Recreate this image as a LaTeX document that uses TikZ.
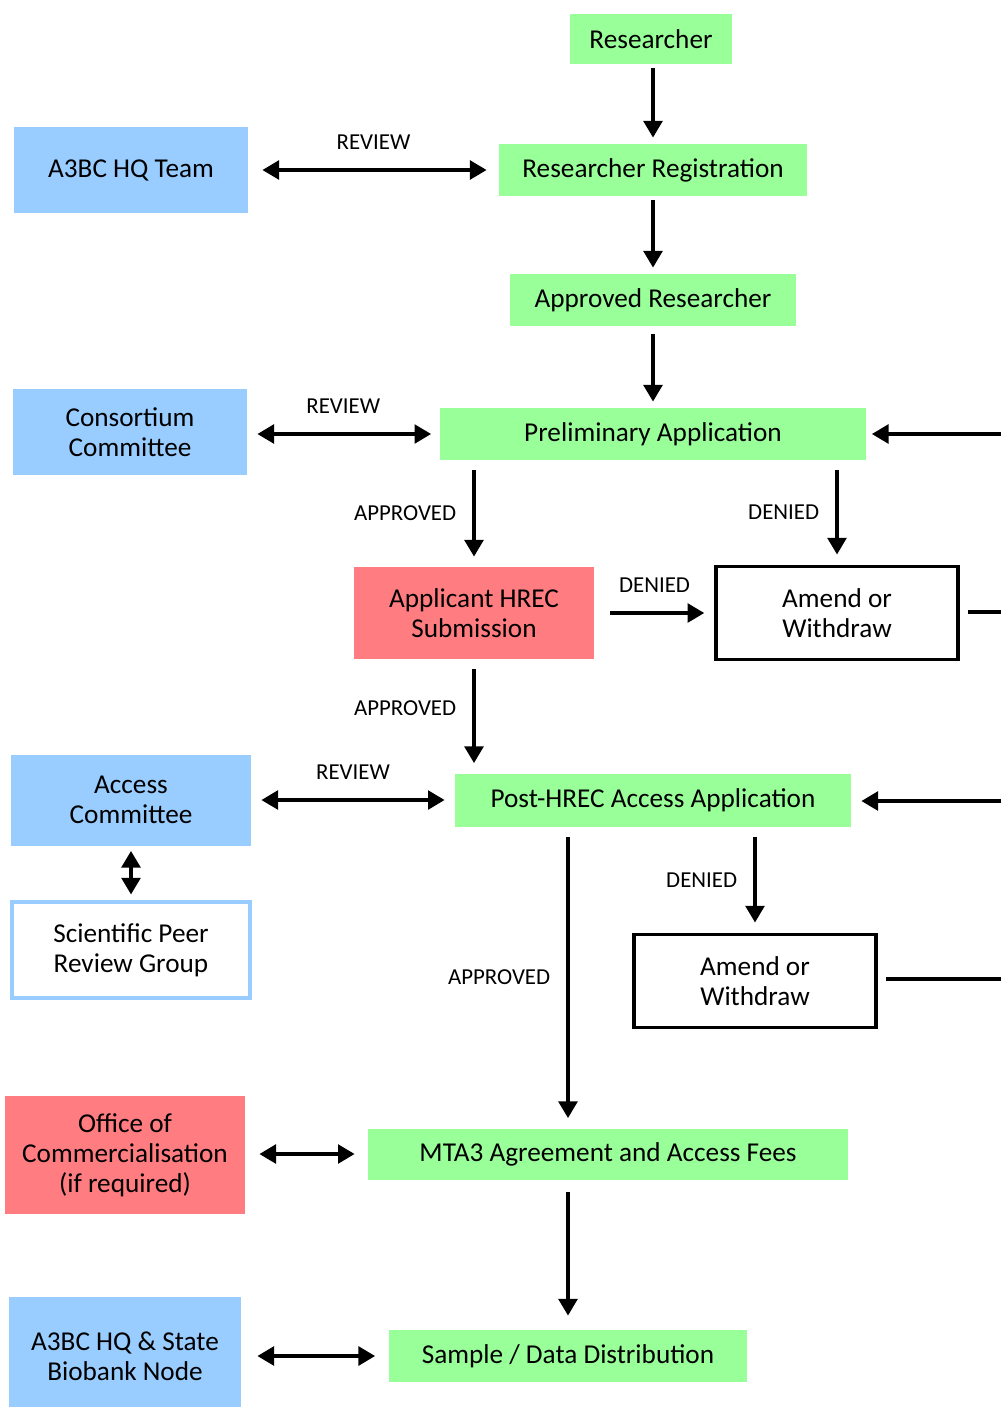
\documentclass[tikz,border=0pt]{standalone}
\usepackage{fontspec}
\setmainfont{Carlito}
\usetikzlibrary{arrows.meta}
\definecolor{stepgreen}{RGB}{153,255,153}
\definecolor{teamblue}{RGB}{153,204,255}
\definecolor{hrecred}{RGB}{255,124,128}

\begin{document}
\begin{tikzpicture}[x=0.02cm, y=-0.02cm,
    box/.style={inner sep=0pt, align=center, font=\fontsize{15.5}{17}\selectfont},
    greenbox/.style={box, fill=stepgreen},
    bluebox/.style={box, fill=teamblue},
    redbox/.style={box, fill=hrecred},
    amendbox/.style={box, draw=black, line width=2.2pt, minimum width=4.83cm, minimum height=1.86cm},
    arr/.style={line width=2.3pt, shorten <=0.2cm, shorten >=0.2cm,
        -{Triangle[length=9.5pt,width=10.5pt]}},
    both/.style={arr, {Triangle[length=9.5pt,width=10.5pt]}-{Triangle[length=9.5pt,width=10.5pt]}},
    lbl/.style={font=\fontsize{13}{15}\selectfont}]
    \useasboundingbox (0,0) rectangle (1001,1407);

    % main column
    \node[greenbox, minimum width=3.26cm, minimum height=1cm] (researcher) at (651,39) {Researcher};
    \node[greenbox, minimum width=6.16cm, minimum height=1.04cm] (registration) at (653,170) {Researcher Registration};
    \node[greenbox, minimum width=5.74cm, minimum height=1.04cm] (approved) at (653,300) {Approved Researcher};
    \node[greenbox, minimum width=8.54cm, minimum height=1.04cm] (prelim) at (653,434) {Preliminary Application};
    \node[redbox, minimum width=4.82cm, minimum height=1.84cm] (hrec) at (474,613) {Applicant HREC\\Submission};
    \node[amendbox] (amendA) at (837,613) {Amend or\\Withdraw};
    \node[greenbox, minimum width=7.92cm, minimum height=1.06cm] (post) at (653,800) {Post-HREC Access Application};
    \node[amendbox] (amendB) at (755,981) {Amend or\\Withdraw};
    \node[greenbox, minimum width=9.6cm, minimum height=1.02cm] (mta) at (608,1154) {MTA3 Agreement and Access Fees};
    \node[greenbox, minimum width=7.18cm, minimum height=1.04cm] (sample) at (568,1356) {Sample / Data Distribution};

    % left column
    \node[bluebox, minimum width=4.68cm, minimum height=1.72cm] (hqteam) at (131,170) {A3BC HQ Team};
    \node[bluebox, minimum width=4.68cm, minimum height=1.74cm] (consortium) at (130,432) {Consortium\\Committee};
    \node[bluebox, minimum width=4.8cm, minimum height=1.82cm] (access) at (131,800) {Access\\Committee};
    \node[box, fill=white, draw=teamblue, line width=2.8pt, minimum width=4.76cm, minimum height=1.92cm] (peer) at (131,950) {Scientific Peer\\Review Group};
    \node[redbox, minimum width=4.8cm, minimum height=2.36cm] (office) at (125,1155) {Office of\\Commercialisation\\(if required)};
    \node[bluebox, minimum width=4.64cm, minimum height=2.36cm] (biobank) at (125,1356) {A3BC HQ \& State\\Biobank Node};

    % page edge, where the loops leave the picture
    \coordinate (edgeA) at (1001,434);
    \coordinate (edgeB) at (1001,612);
    \coordinate (edgeC) at (1001,801);
    \coordinate (edgeD) at (1001,979);

    % flow
    \draw[arr, shorten <=0.08cm, shorten >=0.12cm] (registration.north |- researcher.south) -- (registration.north);
    \draw[arr, shorten <=0.08cm, shorten >=0.12cm] (registration) -- (approved);
    \draw[arr, shorten <=0.16cm, shorten >=0.12cm] (approved) -- (prelim);
    \draw[arr] (hrec.north |- prelim.south) -- node[lbl, left=0.2cm] {APPROVED} (hrec.north);
    \draw[arr] (amendA.north |- prelim.south) -- node[lbl, left=0.2cm] {DENIED} (amendA.north);
    \draw[arr, shorten <=0.3cm] (hrec.east) -- node[lbl, above=0.25cm] {DENIED} (amendA.west);
    \draw[arr] (hrec.south) -- node[lbl, left=0.2cm, yshift=0.16cm] {APPROVED} (hrec.south |- post.north);
    \draw[arr] (amendB.north |- post.south) -- node[lbl, left=0.2cm] {DENIED} (amendB.north);
    \draw[arr] (sample.north |- post.south) -- node[lbl, left=0.2cm] {APPROVED} (sample.north |- mta.north);
    \draw[arr, shorten <=0.24cm, shorten >=0.28cm] (sample.north |- mta.south) -- (sample.north);

    % loops back
    \draw[line width=2.3pt, shorten <=0.16cm] (amendA.east |- edgeB) -- (edgeB);
    \draw[arr, shorten <=0pt, shorten >=0.1cm] (edgeA) -- (prelim.east |- edgeA);
    \draw[line width=2.3pt, shorten <=0.16cm] (amendB.east |- edgeD) -- (edgeD);
    \draw[arr, shorten <=0pt, shorten >=0.2cm] (edgeC) -- (post.east |- edgeC);

    % reviews
    \draw[both, shorten <=0.28cm, shorten >=0.24cm] (hqteam.east) -- node[lbl, above=0.25cm] {REVIEW} (registration.west);
    \draw[both, shorten >=0.16cm] (consortium.east |- prelim.west) -- node[lbl, above=0.25cm] {REVIEW} (prelim.west);
    \draw[both] (access.east) -- node[lbl, above=0.25cm] {REVIEW} (post.west);
    \draw[both, shorten <=0.1cm, shorten >=0.1cm] (access.south) -- (peer.north);
    \draw[both, shorten <=0.28cm, shorten >=0.26cm] (office.east |- mta.west) -- (mta.west);
    \draw[both, shorten <=0.32cm, shorten >=0.26cm] (biobank.east |- sample.west) -- (sample.west);
\end{tikzpicture}
\end{document}
